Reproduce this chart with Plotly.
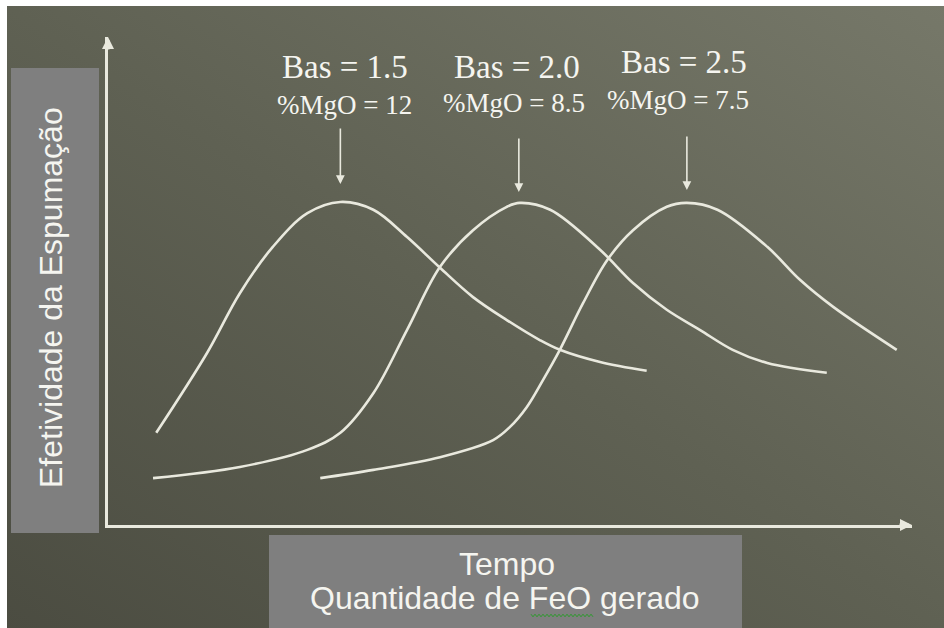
import base64
import plotly.graph_objects as go

# ---------------- data (arbitrary units: x = tempo 0..100, y = efetividade 0..100)
x_bas15 = [6.0, 12.3, 16.4, 20.5, 24.8, 28.9, 33.0, 37.2, 41.3, 45.4, 49.6, 53.7, 56.2, 61.2, 67.0]
y_bas15 = [18.9, 35.2, 47.5, 57.0, 63.9, 66.2, 64.6, 59.0, 52.7, 46.7, 42.0, 37.9, 35.9, 33.4, 31.6]

x_bas20 = [5.6, 16.4, 24.8, 28.9, 33.0, 37.2, 41.3, 45.4, 49.6, 51.2, 55.0, 61.2, 65.3, 69.5, 73.6, 77.7, 82.0, 89.4]
y_bas20 = [9.6, 11.9, 15.4, 18.9, 27.0, 40.0, 52.9, 60.4, 65.2, 66.0, 64.6, 56.4, 49.6, 44.1, 40.0, 35.9, 33.2, 31.2]

x_bas25 = [26.4, 33.0, 41.3, 47.9, 50.0, 52.1, 54.1, 56.2, 59.1, 62.1, 65.3, 69.5, 72.0, 75.8, 82.0, 86.1, 90.2, 98.1]
y_bas25 = [9.6, 11.3, 13.9, 17.4, 20.1, 24.2, 29.7, 35.9, 45.5, 54.3, 60.4, 65.2, 66.0, 64.6, 57.0, 50.2, 44.7, 35.9]

labels_bas = ["Bas = 1.5", "Bas = 2.0", "Bas = 2.5"]
labels_mgo = ["%MgO = 12", "%MgO = 8.5", "%MgO = 7.5"]
peak_x = [28.9, 51.1, 72.0]

y_title = "Efetividade da Espumação"
x_title_1 = "Tempo"
x_title_2 = "Quantidade de FeO gerado"

# ---------------- layout geometry
W, H = 944, 628
ML, MR, MT, MB = 108, 32, 37, 103
PW, PH = W - ML - MR, H - MT - MB


def px(xp):
    return (xp - ML) / PW


def py(yp):
    return (H - MB - yp) / PH


LINE = "#e9e9de"
TXT = "#f5f5f0"

fig = go.Figure()
for xs, ys in [(x_bas15, y_bas15), (x_bas20, y_bas20), (x_bas25, y_bas25)]:
    fig.add_trace(go.Scatter(x=xs, y=ys, mode="lines",
                             line=dict(color=LINE, width=2.6, shape="spline", smoothing=1.0),
                             hoverinfo="skip", showlegend=False))

# gradient background
svg = ('<svg xmlns="http://www.w3.org/2000/svg" width="940" height="625" viewBox="0 0 940 625" '
       'preserveAspectRatio="none"><defs><linearGradient id="g" x1="0" y1="1" x2="1" y2="0">'
       '<stop offset="0" stop-color="#4b4c41"/><stop offset="0.5" stop-color="#5f6153"/>'
       '<stop offset="1" stop-color="#767869"/></linearGradient></defs>'
       '<rect width="940" height="625" fill="url(#g)"/></svg>')
uri = "data:image/svg+xml;base64," + base64.b64encode(svg.encode()).decode()
fig.add_layout_image(dict(source=uri, xref="paper", yref="paper", x=px(7), y=py(6),
                          sizex=(W + 3 - 7) / PW, sizey=(H + 3 - 6) / PH, sizing="stretch",
                          xanchor="left", yanchor="top", layer="below"))

shapes = []
# y title box
shapes.append(dict(type="rect", xref="paper", yref="paper", x0=px(11), x1=px(99), y0=py(533), y1=py(68),
                   fillcolor="#7f7f7f", line=dict(width=0), layer="below"))
# x title box
shapes.append(dict(type="rect", xref="paper", yref="paper", x0=px(269), x1=px(742), y0=py(H + 3), y1=py(535),
                   fillcolor="#7f7f7f", line=dict(width=0), layer="below"))
# green spell-check squiggle under "FeO"
pts = []
xx = 531
k = 0
while xx <= 593:
    pts.append((px(xx), py(615.5 + (1.3 if k % 2 else -1.3))))
    xx += 2
    k += 1
path = "M " + " L ".join(f"{a:.5f},{b:.5f}" for a, b in pts)
shapes.append(dict(type="path", xref="paper", yref="paper", path=path,
                   line=dict(color="#2e9a2e", width=1)))
fig.update_layout(shapes=shapes)

ann = []
# axis arrowheads
ann.append(dict(x=100, y=0, xref="x", yref="y", ax=-14, ay=0, text="", showarrow=True,
                arrowhead=2, arrowsize=0.8, arrowwidth=3, arrowcolor=LINE))
ann.append(dict(x=0, y=100, xref="x", yref="y", ax=0, ay=14, text="", showarrow=True,
                arrowhead=2, arrowsize=0.8, arrowwidth=3, arrowcolor=LINE))
# peak arrows and labels
bas_pos = [(345, 67), (517, 67), (684, 62)]
mgo_pos = [(344, 105), (514, 103), (678, 100)]
arrow_top = [127, 137, 135]
arrow_tip = [184, 192, 190]
for i in range(3):
    ann.append(dict(x=peak_x[i], y=(H - MB - arrow_tip[i]) / PH * 100, xref="x", yref="y",
                    ax=peak_x[i], ay=(H - MB - arrow_top[i]) / PH * 100, axref="x", ayref="y",
                    text="", showarrow=True, arrowhead=2, arrowsize=1.1, arrowwidth=1.6,
                    arrowcolor=LINE))
    ann.append(dict(x=px(bas_pos[i][0]), y=py(bas_pos[i][1]), xref="paper", yref="paper",
                    text=labels_bas[i], showarrow=False, xanchor="center", yanchor="middle",
                    font=dict(family="Liberation Serif, Times New Roman, serif", size=33, color=TXT)))
    ann.append(dict(x=px(mgo_pos[i][0]), y=py(mgo_pos[i][1]), xref="paper", yref="paper",
                    text=labels_mgo[i], showarrow=False, xanchor="center", yanchor="middle",
                    font=dict(family="Liberation Serif, Times New Roman, serif", size=27, color=TXT)))
# axis titles
ann.append(dict(x=px(51), y=py(298), xref="paper", yref="paper", text=y_title, textangle=-90,
                showarrow=False, xanchor="center", yanchor="middle",
                font=dict(family="Liberation Sans, Arial, sans-serif", size=32, color=TXT)))
ann.append(dict(x=px(507), y=py(564), xref="paper", yref="paper", text=x_title_1,
                showarrow=False, xanchor="center", yanchor="middle",
                font=dict(family="Liberation Sans, Arial, sans-serif", size=32, color=TXT)))
ann.append(dict(x=px(505), y=py(598), xref="paper", yref="paper", text=x_title_2,
                showarrow=False, xanchor="center", yanchor="middle",
                font=dict(family="Liberation Sans, Arial, sans-serif", size=32, color=TXT)))

fig.update_layout(
    annotations=ann,
    width=W, height=H,
    margin=dict(l=ML, r=MR, t=MT, b=MB, pad=0),
    paper_bgcolor="white", plot_bgcolor="rgba(0,0,0,0)",
    xaxis=dict(range=[0, 100], showgrid=False, zeroline=False, showticklabels=False, ticks="",
               showline=True, linecolor=LINE, linewidth=3, fixedrange=True),
    yaxis=dict(range=[0, 100], showgrid=False, zeroline=False, showticklabels=False, ticks="",
               showline=True, linecolor=LINE, linewidth=3, fixedrange=True),
    showlegend=False,
)
fig.write_html("out.html", config={"displayModeBar": False},
               post_script="document.body.style.margin='0';document.body.style.overflow='hidden';")
